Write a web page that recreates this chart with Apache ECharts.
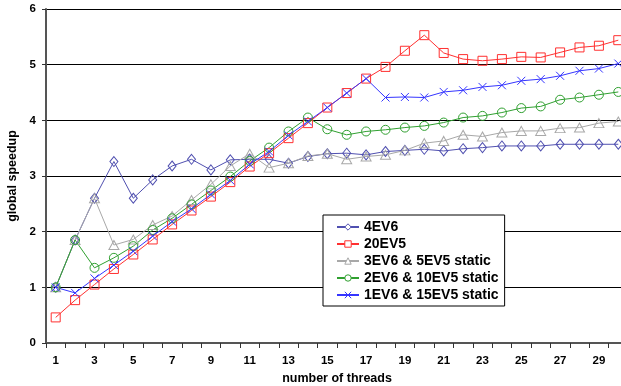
<!DOCTYPE html>
<html>
<head>
<meta charset="utf-8">
<script src="https://cdn.jsdelivr.net/npm/echarts@6/dist/echarts.min.js"></script>
<style>
  html, body { margin: 0; padding: 0; background: #fff; }
  #chart { width: 621px; height: 386px; }
</style>
</head>
<body>
<div id="chart"></div>
<script>
// number of threads
const threads = Array.from({ length: 30 }, (_, i) => String(i + 1));

const ev6x4 = [1.0, 1.85, 2.6, 3.26, 2.6, 2.93, 3.18, 3.3, 3.11, 3.29,
  3.3, 3.3, 3.23, 3.35, 3.4, 3.41, 3.38, 3.44, 3.46, 3.48,
  3.45, 3.49, 3.51, 3.54, 3.54, 3.54, 3.57, 3.57, 3.57, 3.57];
const ev5x20 = [0.46, 0.77, 1.05, 1.33, 1.59, 1.86, 2.13, 2.38, 2.63, 2.89,
  3.17, 3.41, 3.68, 3.95, 4.23, 4.49, 4.75, 4.96, 5.25, 5.53,
  5.21, 5.1, 5.07, 5.1, 5.14, 5.13, 5.22, 5.31, 5.34, 5.44];
const mix3_5 = [1.0, 1.85, 2.6, 1.76, 1.86, 2.12, 2.28, 2.57, 2.85, 3.18,
  3.4, 3.15, 3.23, 3.36, 3.4, 3.3, 3.35, 3.38, 3.46, 3.59,
  3.63, 3.74, 3.71, 3.78, 3.81, 3.81, 3.86, 3.87, 3.95, 3.98];
const mix2_10 = [1.0, 1.85, 1.35, 1.53, 1.74, 2.03, 2.24, 2.49, 2.74, 2.99,
  3.27, 3.51, 3.8, 4.05, 3.84, 3.74, 3.8, 3.83, 3.87, 3.9,
  3.96, 4.05, 4.08, 4.14, 4.22, 4.25, 4.37, 4.41, 4.46, 4.51];
const mix1_15 = [1.0, 0.9, 1.16, 1.4, 1.65, 1.92, 2.18, 2.41, 2.67, 2.92,
  3.21, 3.44, 3.73, 3.98, 4.23, 4.49, 4.75, 4.41, 4.42, 4.41,
  4.51, 4.54, 4.6, 4.63, 4.71, 4.74, 4.8, 4.89, 4.93, 5.02];

const font = "Liberation Sans, Arial, sans-serif";
const crossPath = "path://M0,0L10,10M10,0L0,10";

const names = ["4EV6", "20EV5", "3EV6 & 5EV5 static", "2EV6 & 10EV5 static", "1EV6 & 15EV5 static"];
const colors = ["#5050b0", "#ff3030", "#a8a8a8", "#30a030", "#3535ff"];
const symbols = ["diamond", "rect", "triangle", "circle", crossPath];
const sizes = [[8, 10], 9, [10, 9], 9, 8];
const values = [ev6x4, ev5x20, mix3_5, mix2_10, mix1_15];

const chart = echarts.init(document.getElementById("chart"));
chart.setOption({
  backgroundColor: "#fff",
  animation: false,
  grid: { left: 46, right: -7, top: 9, bottom: 43, containLabel: false, outerBoundsMode: "none" },
  legend: {
    orient: "vertical",
    left: 323,
    top: 215,
    padding: [5, 6, 4, 13],
    itemGap: 3,
    itemWidth: 22,
    itemHeight: 8,
    itemStyle: { color: "#fff", borderColor: "inherit", borderWidth: 1 },
    backgroundColor: "#fff",
    borderColor: "#000",
    borderWidth: 1,
    borderRadius: 0,
    textStyle: { fontFamily: font, fontWeight: "bold", fontSize: 14, color: "#000" }
  },
  xAxis: {
    type: "category",
    data: threads,
    boundaryGap: true,
    name: "number of threads",
    nameLocation: "middle",
    nameGap: 28,
    nameTextStyle: { fontFamily: font, fontWeight: "bold", fontSize: 12.5, color: "#000" },
    axisLine: { lineStyle: { color: "#555", width: 2 } },
    axisTick: { show: true, interval: 0, length: 5, lineStyle: { color: "#333" } },
    axisLabel: { interval: 1, margin: 12, fontFamily: font, fontWeight: "bold", fontSize: 11.5, color: "#000" },
    splitLine: { show: false }
  },
  yAxis: {
    type: "value",
    min: 0,
    max: 6,
    interval: 1,
    name: "global speedup",
    nameLocation: "middle",
    nameGap: 27,
    nameTextStyle: { fontFamily: font, fontWeight: "bold", fontSize: 12.5, color: "#000" },
    axisLine: { show: true, lineStyle: { color: "#555", width: 2 } },
    axisTick: { show: true, length: 4, lineStyle: { color: "#333" } },
    axisLabel: { margin: 10, fontFamily: font, fontWeight: "bold", fontSize: 11.5, color: "#000" },
    splitLine: { show: true, lineStyle: { color: "#000", width: 1 } }
  },
  series: names.map((n, i) => ({
    name: n,
    type: "line",
    data: values[i],
    symbol: symbols[i],
    symbolSize: sizes[i],
    showAllSymbol: true,
    lineStyle: { color: colors[i], width: 1 },
    itemStyle: { color: "rgba(255,255,255,0)", borderColor: colors[i], borderWidth: 1 },
    emphasis: { disabled: true },
    animation: false
  }))
});
</script>
</body>
</html>
